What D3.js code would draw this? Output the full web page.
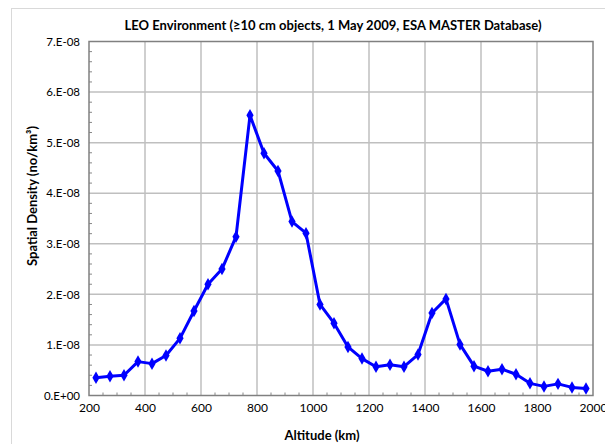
<!DOCTYPE html>
<html>
<head>
<meta charset="utf-8">
<script src="https://cdn.jsdelivr.net/npm/d3@7"></script>
<style>
  html, body { margin: 0; padding: 0; background: #fff; }
  svg { display: block; }
  text { font-family: Lato, "Open Sans", sans-serif; fill: #000; }
</style>
</head>
<body>
<svg id="chart" width="605" height="444"></svg>
<script>
// Data (altitude in km, spatial density in no/km^3)
const altitudes = [225, 275, 325, 375, 425, 475, 525, 575, 625, 675, 725, 775, 825, 875, 925, 975,
  1025, 1075, 1125, 1175, 1225, 1275, 1325, 1375, 1425, 1475, 1525, 1575, 1625, 1675, 1725, 1775,
  1825, 1875, 1925, 1975];
const densities = [0.35e-8, 0.38e-8, 0.40e-8, 0.67e-8, 0.63e-8, 0.79e-8, 1.13e-8, 1.67e-8, 2.20e-8, 2.50e-8,
  3.14e-8, 5.54e-8, 4.79e-8, 4.44e-8, 3.44e-8, 3.21e-8, 1.80e-8, 1.43e-8, 0.96e-8, 0.73e-8,
  0.57e-8, 0.61e-8, 0.57e-8, 0.81e-8, 1.63e-8, 1.91e-8, 1.01e-8, 0.58e-8, 0.48e-8, 0.52e-8,
  0.42e-8, 0.24e-8, 0.18e-8, 0.23e-8, 0.16e-8, 0.14e-8];
const xTicks = [200, 400, 600, 800, 1000, 1200, 1400, 1600, 1800, 2000];
const yTicks = [0, 1e-8, 2e-8, 3e-8, 4e-8, 5e-8, 6e-8, 7e-8];
const yTickLabels = ["0.E+00", "1.E-08", "2.E-08", "3.E-08", "4.E-08", "5.E-08", "6.E-08", "7.E-08"];
const titleText = "LEO Environment (\u226510 cm objects, 1 May 2009, ESA MASTER Database)";
const xTitle = "Altitude (km)";
const yTitle = "Spatial Density (no/km\u00B3)";

const svg = d3.select("#chart");
const m = { left: 89, right: 593, top: 41.5, bottom: 395.5 };

// outer chart frame
svg.append("rect").attr("x", 11.5).attr("y", 8.5).attr("width", 620).attr("height", 460)
  .attr("fill", "none").attr("stroke", "#d9d9d9").attr("stroke-width", 1);

const x = d3.scaleLinear().domain([200, 2000]).range([m.left, m.right]);
const y = d3.scaleLinear().domain([0, 7e-8]).range([m.bottom, m.top]);

// gridlines
const grid = svg.append("g");
grid.selectAll(".vg").data(xTicks.slice(1, -1)).join("line")
  .attr("x1", d => x(d)).attr("x2", d => x(d)).attr("y1", m.top).attr("y2", m.bottom)
  .attr("stroke", "#bfbfbf").attr("stroke-width", 1.5);
grid.selectAll(".hg").data(yTicks.slice(1, -1)).join("line")
  .attr("x1", m.left).attr("x2", m.right).attr("y1", d => y(d)).attr("y2", d => y(d))
  .attr("stroke", "#bfbfbf").attr("stroke-width", 1.5);

// minor ticks (inward)
const xMinor = d3.range(250, 2000, 50).filter(v => v % 200 !== 0);
svg.append("g").selectAll("line").data(xMinor).join("line")
  .attr("x1", d => x(d)).attr("x2", d => x(d)).attr("y1", m.bottom).attr("y2", m.bottom - 3)
  .attr("stroke", "#888").attr("stroke-width", 1);
const yMinor = d3.range(0, 70.01, 2).map(v => v * 1e-9).filter((v, i) => i % 5 !== 0);
svg.append("g").selectAll("line").data(yMinor).join("line")
  .attr("x1", m.left).attr("x2", m.left + 3).attr("y1", d => y(d)).attr("y2", d => y(d))
  .attr("stroke", "#888").attr("stroke-width", 1);

// plot border
svg.append("rect").attr("x", m.left).attr("y", m.top)
  .attr("width", m.right - m.left).attr("height", m.bottom - m.top)
  .attr("fill", "none").attr("stroke", "#808080").attr("stroke-width", 1.5);

// axes (labels only)
const xAxis = d3.axisBottom(x).tickValues(xTicks).tickSize(0).tickPadding(8).tickFormat(d3.format("d"));
const gx = svg.append("g").attr("transform", `translate(0,${m.bottom})`).call(xAxis);
gx.select(".domain").remove();
gx.selectAll("text").style("font-size", "12px").attr("fill", "#000").attr("dy", "0.71em");

const yAxis = d3.axisLeft(y).tickValues(yTicks).tickSize(0).tickPadding(9)
  .tickFormat((d, i) => yTickLabels[i]);
const gy = svg.append("g").attr("transform", `translate(${m.left},0)`).call(yAxis);
gy.select(".domain").remove();
gy.selectAll("text").style("font-size", "11.5px").attr("fill", "#000");

// line
const pts = altitudes.map((a, i) => [a, densities[i]]);
const line = d3.line().x(d => x(d[0])).y(d => y(d[1]));
svg.append("path").datum(pts).attr("d", line)
  .attr("fill", "none").attr("stroke", "#0000ff").attr("stroke-width", 3).attr("stroke-linejoin", "round");

// diamond markers
const diamond = d3.symbol().type(d3.symbolDiamond).size(45);
svg.append("g").selectAll("path").data(pts).join("path")
  .attr("transform", d => `translate(${x(d[0])},${y(d[1])})`)
  .attr("d", diamond).attr("fill", "#0000ff");

// titles
svg.append("text").attr("x", 333).attr("y", 30).attr("text-anchor", "middle")
  .style("font-size", "13px").style("font-weight", "bold").text(titleText);
svg.append("text").attr("x", 322).attr("y", 440).attr("text-anchor", "middle")
  .style("font-size", "13px").style("font-weight", "bold").text(xTitle);
svg.append("text").attr("transform", "translate(37,196) rotate(-90)").attr("text-anchor", "middle")
  .style("font-size", "13px").style("font-weight", "bold").text(yTitle);
</script>
</body>
</html>
